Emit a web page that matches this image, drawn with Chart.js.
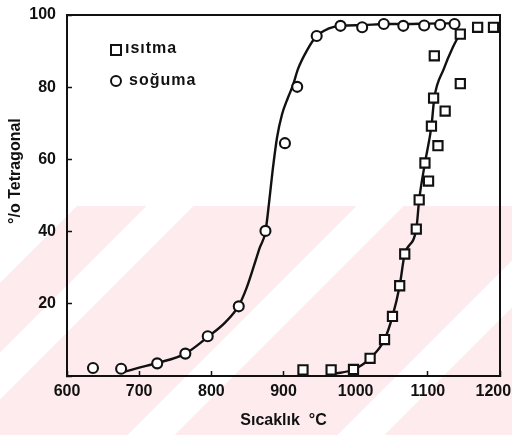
<!DOCTYPE html>
<html><head><meta charset="utf-8">
<script src="https://cdn.jsdelivr.net/npm/chart.js@4.4.0/dist/chart.umd.min.js"></script>
<style>
html,body{margin:0;padding:0;background:#fff;}
#wrap{position:relative;width:512px;height:435px;overflow:hidden;}
#wm{position:absolute;left:0;top:0;width:512px;height:435px;
 background:repeating-linear-gradient(135deg,#fdebee 0px,#fdebee 101px,#fff 101px,#fff 134px,#fdebee 134px,#fdebee 148.5px);
 clip-path:polygon(77px 206px,512px 206px,512px 435px,0px 435px,0px 283px);}
canvas{position:absolute;left:0;top:0;}
.lg{position:absolute;font:bold 16px "Liberation Sans",Arial,sans-serif;color:#111;line-height:16px;letter-spacing:1px;white-space:nowrap;}
.mk{position:absolute;box-sizing:border-box;border:2px solid #111;background:#fff;width:12px;height:12px;}
</style></head>
<body>
<div id="wrap">
  <div id="wm"></div>
  <canvas id="c" width="512" height="435"></canvas>
  <div class="mk" style="left:110px;top:44px;"></div>
  <div class="lg" style="left:125px;top:39.5px;">ısıtma</div>
  <div class="mk" style="left:110px;top:74.5px;border-radius:50%;"></div>
  <div class="lg" style="left:129px;top:71.5px;">soğuma</div>
</div>
<script>
// ---- data ----
const sogumaTemp = [636, 675, 725, 764, 795, 838, 875, 902, 919, 946, 979, 1009, 1039, 1066, 1095, 1117, 1137];
const sogumaPct  = [2.2, 2.0, 3.5, 6.2, 11, 19.3, 40.2, 64.5, 80.1, 94.2, 97, 96.6, 97.5, 97, 97.1, 97.3, 97.5];

const isitmaTemp = [927, 966, 997, 1020, 1040, 1051, 1061, 1068, 1084, 1088, 1101, 1096, 1114, 1105, 1124, 1108, 1145, 1109, 1145, 1169, 1191];
const isitmaPct  = [1.7, 1.7, 1.8, 4.9, 10.1, 16.5, 25, 33.8, 40.7, 48.8, 54, 59, 63.8, 69.2, 73.4, 77, 81, 88.7, 94.7, 96.6, 96.6];

const sogumaCurveTemp = [680, 700, 725, 764, 795, 820, 838, 849, 859, 867, 875, 880, 885, 891, 898, 906, 913, 920, 932, 946, 962, 979, 1010, 1040, 1070, 1100, 1140];
const sogumaCurvePct  = [1.2, 2.3, 3.6, 6.2, 10.8, 15, 19.5, 24.5, 30.5, 35.5, 40, 48, 57, 66, 72.5, 77, 80.5, 85, 90, 94.2, 96.2, 97, 97.2, 97.5, 97.5, 97.6, 97.7];

const isitmaCurveTemp = [970, 997, 1020, 1040, 1051, 1061, 1068, 1084, 1088, 1096, 1105, 1109, 1122, 1135, 1145];
const isitmaCurvePct  = [0.6, 1.8, 4.9, 10.1, 16.5, 25, 33.8, 40.7, 48.8, 59, 69.2, 77, 85, 91.2, 95];

const xTickValues = [600, 700, 800, 900, 1000, 1100, 1200];
const yTickValues = [0, 20, 40, 60, 80, 100];

const xTitle = 'Sıcaklık\u00a0\u00a0°C';
const yTitle = '°/o Tetragonal';

// ---- chart ----
const toXY = (xs, ys) => xs.map((x, i) => ({x: x, y: ys[i]}));
const INK = '#111';
const FONT = {family: '"Liberation Sans", Arial, sans-serif', size: 16, weight: 'bold'};
Chart.defaults.font.family = FONT.family;
Chart.defaults.color = INK;

const frame = {
  id: 'frame',
  beforeDatasetsDraw(chart) {
    const a = chart.chartArea, ctx = chart.ctx;
    ctx.save();
    ctx.strokeStyle = INK; ctx.lineWidth = 2;
    ctx.beginPath();
    ctx.moveTo(a.left, a.top); ctx.lineTo(a.right, a.top); ctx.lineTo(a.right, a.bottom);
    ctx.stroke();
    ctx.restore();
  }
};

const lastX = xTickValues[xTickValues.length - 1];

new Chart(document.getElementById('c'), {
  type: 'scatter',
  data: {
    datasets: [
      {label: 'ısıtma', data: toXY(isitmaTemp, isitmaPct), pointStyle: 'rect', pointRadius: 6.5,
       borderColor: INK, backgroundColor: '#fff', pointBorderWidth: 2.1, showLine: false, order: 1},
      {label: 'soğuma', data: toXY(sogumaTemp, sogumaPct), pointStyle: 'circle', pointRadius: 5,
       borderColor: INK, backgroundColor: '#fff', pointBorderWidth: 2.1, showLine: false, order: 1},
      {label: 'soğuma eğrisi', data: toXY(sogumaCurveTemp, sogumaCurvePct), showLine: true, pointRadius: 0,
       borderColor: INK, borderWidth: 2.4, cubicInterpolationMode: 'monotone', order: 2},
      {label: 'ısıtma eğrisi', data: toXY(isitmaCurveTemp, isitmaCurvePct), showLine: true, pointRadius: 0,
       borderColor: INK, borderWidth: 2.4, cubicInterpolationMode: 'monotone', order: 2}
    ]
  },
  options: {
    responsive: false, animation: false, devicePixelRatio: 1,
    layout: {padding: {top: 15, right: 12, left: 0, bottom: 0}},
    plugins: {legend: {display: false}, tooltip: {enabled: false}},
    scales: {
      x: {
        type: 'linear', min: 600, max: 1200,
        afterBuildTicks(s) { s.ticks = xTickValues.map(v => ({value: v})); },
        grid: {drawOnChartArea: false, drawTicks: true, tickLength: -5, tickWidth: 1.5, tickColor: INK},
        border: {display: true, color: INK, width: 2},
        ticks: {color: INK, font: FONT, padding: 11, maxRotation: 0, autoSkip: false,
                callback: v => (v === lastX ? String(v) + '\u00a0\u00a0\u00a0' : String(v))},
        title: {display: true, text: xTitle, color: INK, font: FONT, padding: {top: 0, bottom: 5}},
        afterFit(s) { s.height = 59; s.paddingLeft = 0; s.paddingRight = 0; }
      },
      y: {
        type: 'linear', min: 0, max: 100,
        afterBuildTicks(s) { s.ticks = yTickValues.map(v => ({value: v})); },
        grid: {drawOnChartArea: false, drawTicks: true, tickLength: -5, tickWidth: 1.5, tickColor: INK},
        border: {display: true, color: INK, width: 2},
        ticks: {color: INK, font: FONT, padding: 16, crossAlign: 'near',
                callback: v => (v === 0 ? '' : String(v))},
        title: {display: true, text: '\u00a0'.repeat(11) + yTitle, color: INK, font: FONT, padding: {top: 6, bottom: 0}},
        afterFit(s) { s.width = 67; s.paddingTop = 0; s.paddingBottom = 0; }
      }
    }
  },
  plugins: [frame]
});
</script>
</body></html>
